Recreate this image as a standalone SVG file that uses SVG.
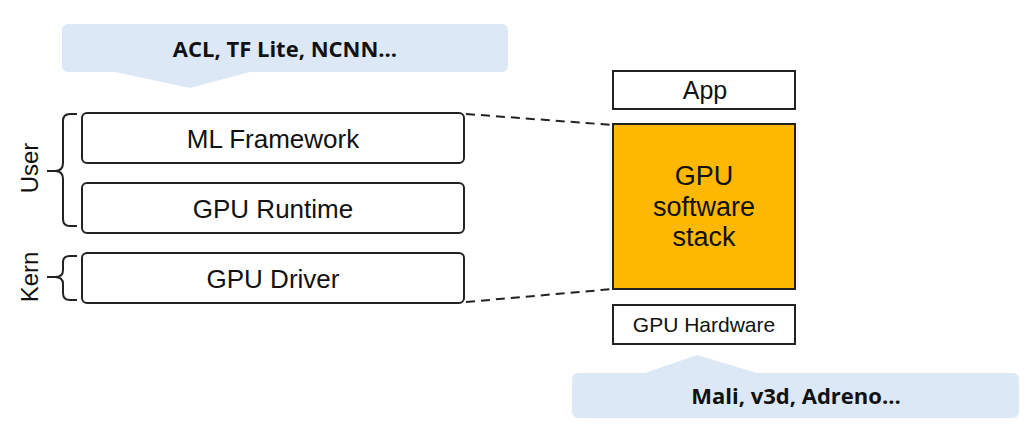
<svg xmlns="http://www.w3.org/2000/svg" width="1029" height="431" viewBox="0 0 1029 431">
<style>
.box{fill:#fff;stroke:#222;stroke-width:2}
.lbl{font-family:"Liberation Sans",Arial,sans-serif;fill:#111;text-anchor:middle}
.call{fill:#dce8f6}
.ctext{font-family:"Open Sans","Noto Sans",sans-serif;font-weight:bold;font-size:22px;fill:#111;text-anchor:middle}
.brace{fill:none;stroke:#222;stroke-width:2}
.dash{stroke:#222;stroke-width:2;stroke-dasharray:9 6;fill:none}
</style>
<rect width="1029" height="431" fill="#fff"/>
<g id="callout-top">
<rect class="call" x="62" y="24" width="446" height="48" rx="6"/>
<polygon class="call" points="115,72 250,72 190,88"/>
<text class="ctext" x="285" y="57">ACL, TF Lite, NCNN...</text>
</g>
<g id="callout-bottom">
<rect class="call" x="572" y="373" width="447" height="45" rx="6"/>
<polygon class="call" points="645,373 757,373 697,355"/>
<text class="ctext" x="796" y="404">Mali, v3d, Adreno...</text>
</g>
<g id="ml-framework">
<rect class="box" x="82" y="113" width="382" height="50" rx="5"/>
<text class="lbl" x="273" y="148" font-size="26">ML Framework</text>
</g>
<g id="gpu-runtime">
<rect class="box" x="82" y="183" width="382" height="50" rx="5"/>
<text class="lbl" x="273" y="218" font-size="26">GPU Runtime</text>
</g>
<g id="gpu-driver">
<rect class="box" x="82" y="253" width="382" height="50" rx="5"/>
<text class="lbl" x="273" y="288" font-size="26">GPU Driver</text>
</g>
<g id="user-brace">
<path class="brace" d="M77,114 L70,114 Q63,114 63,121 L63,163 Q63,171 55,171 L47,171 M55,171 Q63,171 63,179 L63,219 Q63,226 70,226 L77,226"/>
<text class="lbl" font-size="24" transform="translate(38,168) rotate(-90)">User</text>
</g>
<g id="kern-brace">
<path class="brace" d="M77,256 L70,256 Q63,256 63,262 L63,270 Q63,277 55,277 L47,277 M55,277 Q63,277 63,284 L63,293 Q63,300 70,300 L77,300"/>
<text class="lbl" font-size="24" transform="translate(38,277) rotate(-90)">Kern</text>
</g>
<g id="app">
<rect class="box" x="613" y="71" width="182" height="38"/>
<text class="lbl" x="705" y="99" font-size="25">App</text>
</g>
<g id="gpu-software-stack">
<rect x="613" y="124" width="182" height="165" fill="#ffb800" stroke="#222" stroke-width="2"/>
<text class="lbl" x="704" y="185" font-size="27">GPU</text>
<text class="lbl" x="704" y="216" font-size="27">software</text>
<text class="lbl" x="704" y="246" font-size="27">stack</text>
</g>
<g id="gpu-hardware">
<rect class="box" x="613" y="305" width="182" height="39"/>
<text class="lbl" x="704" y="332" font-size="21">GPU Hardware</text>
</g>
<g id="connectors">
<path class="dash" d="M466,114 L613,125"/>
<path class="dash" d="M466,302 L613,289"/>
</g>
</svg>
